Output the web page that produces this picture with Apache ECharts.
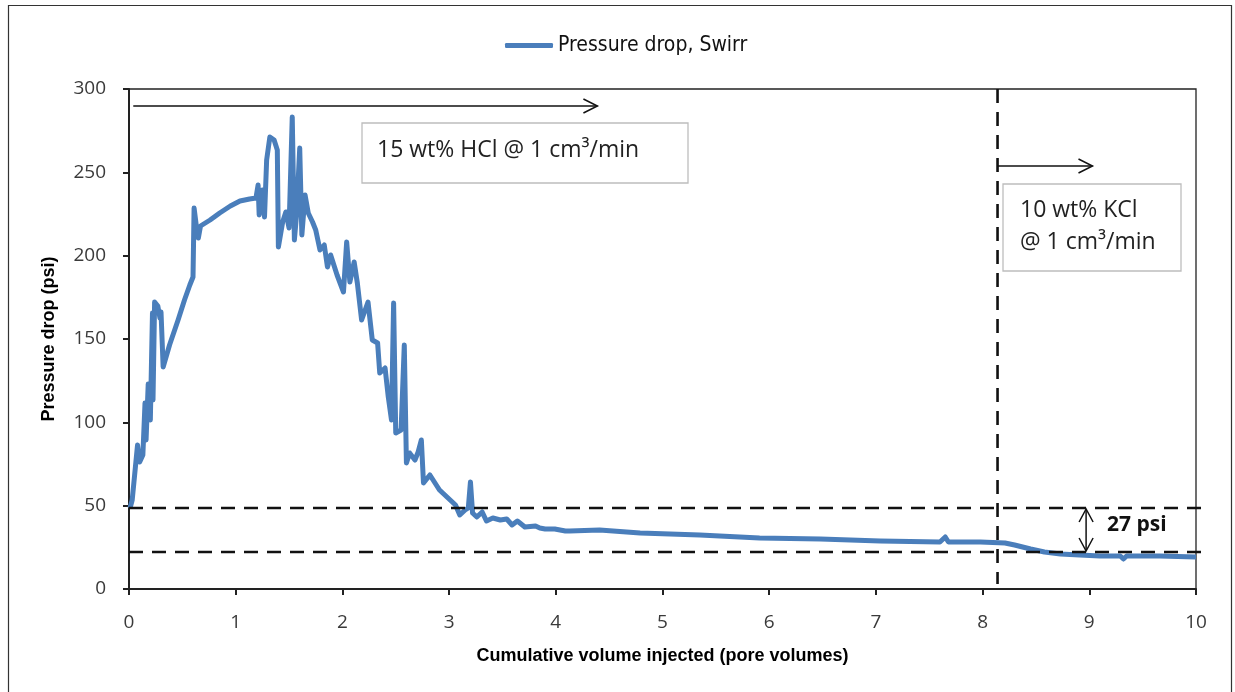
<!DOCTYPE html>
<html>
<head>
<meta charset="utf-8">
<script src="https://cdn.jsdelivr.net/npm/echarts@6/dist/echarts.min.js"></script>
<style>
  html, body { margin: 0; padding: 0; background: #fff; }
  #chart { width: 1235px; height: 692px; }
</style>
</head>
<body>
<div id="chart"></div>
<script>
// pore volumes injected
const pvInjected = [
  0.01, 0.03, 0.06, 0.08, 0.10, 0.13, 0.15, 0.16, 0.18, 0.20, 0.22, 0.225, 0.24, 0.27, 0.29, 0.30, 0.32,
  0.38, 0.46, 0.52, 0.57, 0.60, 0.61, 0.63, 0.65, 0.67, 0.76, 0.85, 0.95, 1.04, 1.13, 1.19,
  1.21, 1.22, 1.25, 1.27, 1.29, 1.32, 1.36, 1.39, 1.40, 1.44, 1.47, 1.50, 1.53, 1.55, 1.57,
  1.60, 1.62, 1.65, 1.68, 1.72, 1.75, 1.79, 1.83, 1.86, 1.89, 1.95, 2.01, 2.04, 2.07, 2.11,
  2.14, 2.18, 2.24, 2.28, 2.33, 2.35, 2.40, 2.43, 2.46, 2.48, 2.50, 2.55, 2.58, 2.60, 2.63,
  2.68, 2.71, 2.74, 2.76, 2.82, 2.91, 3.01, 3.06, 3.10, 3.15, 3.18, 3.20, 3.22, 3.26, 3.31,
  3.35, 3.41, 3.48, 3.54, 3.59, 3.64, 3.71, 3.81, 3.85, 3.90, 3.99, 4.09, 4.13, 4.41, 4.79,
  5.35, 5.91, 6.48, 7.04, 7.60, 7.65, 7.68, 7.98, 8.21, 8.30, 8.45, 8.58, 8.73, 8.91, 9.10,
  9.29, 9.32, 9.35, 9.66, 10.0
];
// pressure drop (psi)
const pressureDrop = [
  48.6, 53.4, 73.2, 86.4, 76.2, 80.4, 111.6, 89.4, 123.0, 101.4, 165.6, 113.4, 172.2, 169.8, 162.6, 166.2, 133.2,
  146.4, 161.4, 173.4, 182.4, 187.2, 228.6, 218.4, 210.6, 217.8, 221.4, 225.6, 229.8, 232.8, 234.0, 234.6,
  242.4, 224.4, 239.4, 223.2, 257.4, 271.2, 269.4, 263.4, 205.2, 220.2, 226.2, 216.6, 283.2, 209.4, 224.4,
  264.6, 212.4, 236.4, 225.6, 220.2, 215.4, 203.4, 206.4, 193.2, 200.4, 188.4, 178.2, 208.2, 184.2, 196.2,
  183.6, 161.4, 172.2, 149.4, 147.6, 129.6, 132.6, 115.2, 101.4, 171.6, 93.6, 95.4, 146.4, 75.6, 81.6,
  77.4, 82.2, 89.4, 63.6, 68.4, 59.4, 53.4, 50.4, 44.4, 47.4, 48.6, 64.2, 45.6, 43.2, 46.2,
  40.8, 42.6, 41.4, 42.0, 38.4, 40.8, 37.2, 37.8, 36.6, 36.0, 36.0, 34.8, 34.8, 35.4, 33.6,
  32.4, 30.6, 30.0, 28.8, 28.2, 31.2, 28.2, 28.2, 27.6, 26.4, 24.0, 22.2, 21.0, 20.4, 19.8,
  19.8, 18.0, 19.8, 19.8, 19.2
];
const yTicks = [0, 50, 100, 150, 200, 250, 300];
const xTicks = [0, 1, 2, 3, 4, 5, 6, 7, 8, 9, 10];

// annotation values
const upperLevel = 48.6;
const lowerLevel = 22.2;
const kclStart = 8.14;

const chart = echarts.init(document.getElementById('chart'));
const tickFont = { fontFamily: 'Open Sans', fontSize: 19, color: '#3a3a3a' };
const nameFont = { fontFamily: 'Liberation Sans', fontWeight: 'bold', fontSize: 18, color: '#000' };

const option = {
  animation: false,
  backgroundColor: '#fff',
  legend: {
    top: 30,
    left: 500,
    itemWidth: 48,
    itemHeight: 5,
    itemGap: 3,
    icon: 'roundRect',
    textStyle: { fontFamily: 'Liberation Sans Narrow, DejaVu Sans Condensed', fontSize: 21, color: '#111' },
    data: ['Pressure drop, Swirr']
  },
  grid: {
    left: 129, right: 39, top: 89, bottom: 103,
    show: true, borderColor: '#222', borderWidth: 1.3, backgroundColor: 'transparent'
  },
  xAxis: {
    type: 'value',
    min: xTicks[0], max: xTicks[xTicks.length - 1], interval: 1,
    name: 'Cumulative volume injected (pore volumes)',
    nameLocation: 'middle', nameGap: 58,
    nameTextStyle: nameFont,
    axisLine: { lineStyle: { color: '#222', width: 2 } },
    axisTick: { length: 6, lineStyle: { color: '#222', width: 2 } },
    axisLabel: Object.assign({ margin: 24 }, tickFont),
    splitLine: { show: false }
  },
  yAxis: {
    type: 'value',
    min: yTicks[0], max: yTicks[yTicks.length - 1], interval: 50,
    name: 'Pressure drop (psi)',
    nameLocation: 'middle', nameGap: 71,
    nameTextStyle: nameFont,
    axisLine: { show: true, lineStyle: { color: '#222', width: 2 } },
    axisTick: { show: true, length: 6, lineStyle: { color: '#222', width: 2 } },
    axisLabel: Object.assign({ margin: 23 }, tickFont),
    splitLine: { show: false }
  },
  series: [{
    name: 'Pressure drop, Swirr',
    type: 'line',
    showSymbol: false,
    symbol: 'none',
    lineStyle: { color: '#4a7ebb', width: 5, join: 'round' },
    itemStyle: { color: '#4a7ebb' },
    data: pvInjected.map((x, i) => [x, pressureDrop[i]])
  }]
};
chart.setOption(option);

// annotations placed through the chart's own scales
const px = (x, y) => chart.convertToPixel({ gridIndex: 0 }, [x, y]);
const dash = { stroke: '#111', lineWidth: 2.6, lineDash: [14, 9] };
const thin = { stroke: '#111', lineWidth: 1.5, fill: null };

function hLine(y, x0, x1, style) {
  const a = px(x0, y), b = px(x1, y);
  return { type: 'line', shape: { x1: a[0], y1: a[1], x2: b[0], y2: b[1] }, style: style, z: 10 };
}
function vLine(x, y0, y1, style) {
  const a = px(x, y0), b = px(x, y1);
  return { type: 'line', shape: { x1: a[0], y1: a[1], x2: b[0], y2: b[1] }, style: style, z: 10 };
}
function chevron(p, dir) {
  let pts;
  if (dir === 'r') pts = [[p[0] - 14, p[1] - 7], p, [p[0] - 14, p[1] + 7]];
  if (dir === 'u') pts = [[p[0] - 7, p[1] + 13], p, [p[0] + 7, p[1] + 13]];
  if (dir === 'd') pts = [[p[0] - 7, p[1] - 13], p, [p[0] + 7, p[1] - 13]];
  return { type: 'polyline', shape: { points: pts }, style: thin, z: 10 };
}

const a1s = px(0.04, 289.8), a1e = px(4.39, 289.8);
const a2s = px(kclStart, 253.8), a2e = px(9.03, 253.8);
const dTop = px(8.97, upperLevel), dBot = px(8.97, lowerLevel);

const box = (l, t, w, h) => ({
  type: 'rect', shape: { x: l, y: t, width: w, height: h },
  style: { fill: '#fff', stroke: '#bdbdbd', lineWidth: 1.3 }, z: 9
});
const boxText = (l, t, txt) => ({
  type: 'text', left: l, top: t, z: 11,
  style: { text: txt, fontFamily: 'Open Sans', fontSize: 23, fill: '#222', lineHeight: 32 }
});

chart.setOption({
  graphic: [
    { type: 'rect', shape: { x: 8.5, y: 5.5, width: 1223, height: 700 },
      style: { fill: null, stroke: '#333', lineWidth: 1.2 }, silent: true },
    hLine(upperLevel, 0, 10.08, dash),
    hLine(lowerLevel, 0, 10.08, dash),
    vLine(kclStart, 300, 3, dash),
    { type: 'line', shape: { x1: a1s[0], y1: a1s[1], x2: a1e[0], y2: a1e[1] }, style: thin, z: 10 },
    chevron(a1e, 'r'),
    { type: 'line', shape: { x1: a2s[0], y1: a2s[1], x2: a2e[0], y2: a2e[1] }, style: thin, z: 10 },
    chevron(a2e, 'r'),
    { type: 'line', shape: { x1: dTop[0], y1: dTop[1] + 1, x2: dBot[0], y2: dBot[1] - 1 }, style: thin, z: 10 },
    chevron([dTop[0], dTop[1] + 1], 'u'),
    chevron([dBot[0], dBot[1] - 1], 'd'),
    box(362, 123, 326, 60),
    boxText(377, 134, '15 wt% HCl @ 1 cm³/min'),
    box(1003, 184, 178, 87),
    boxText(1020, 194, '10 wt% KCl\n@ 1 cm³/min'),
    { type: 'text', left: dTop[0] + 21, top: (dTop[1] + dBot[1]) / 2 - 15, z: 11,
      style: { text: '27 psi', fontFamily: 'Open Sans', fontWeight: 'bold', fontSize: 21, fill: '#111' } }
  ]
});
</script>
</body>
</html>
